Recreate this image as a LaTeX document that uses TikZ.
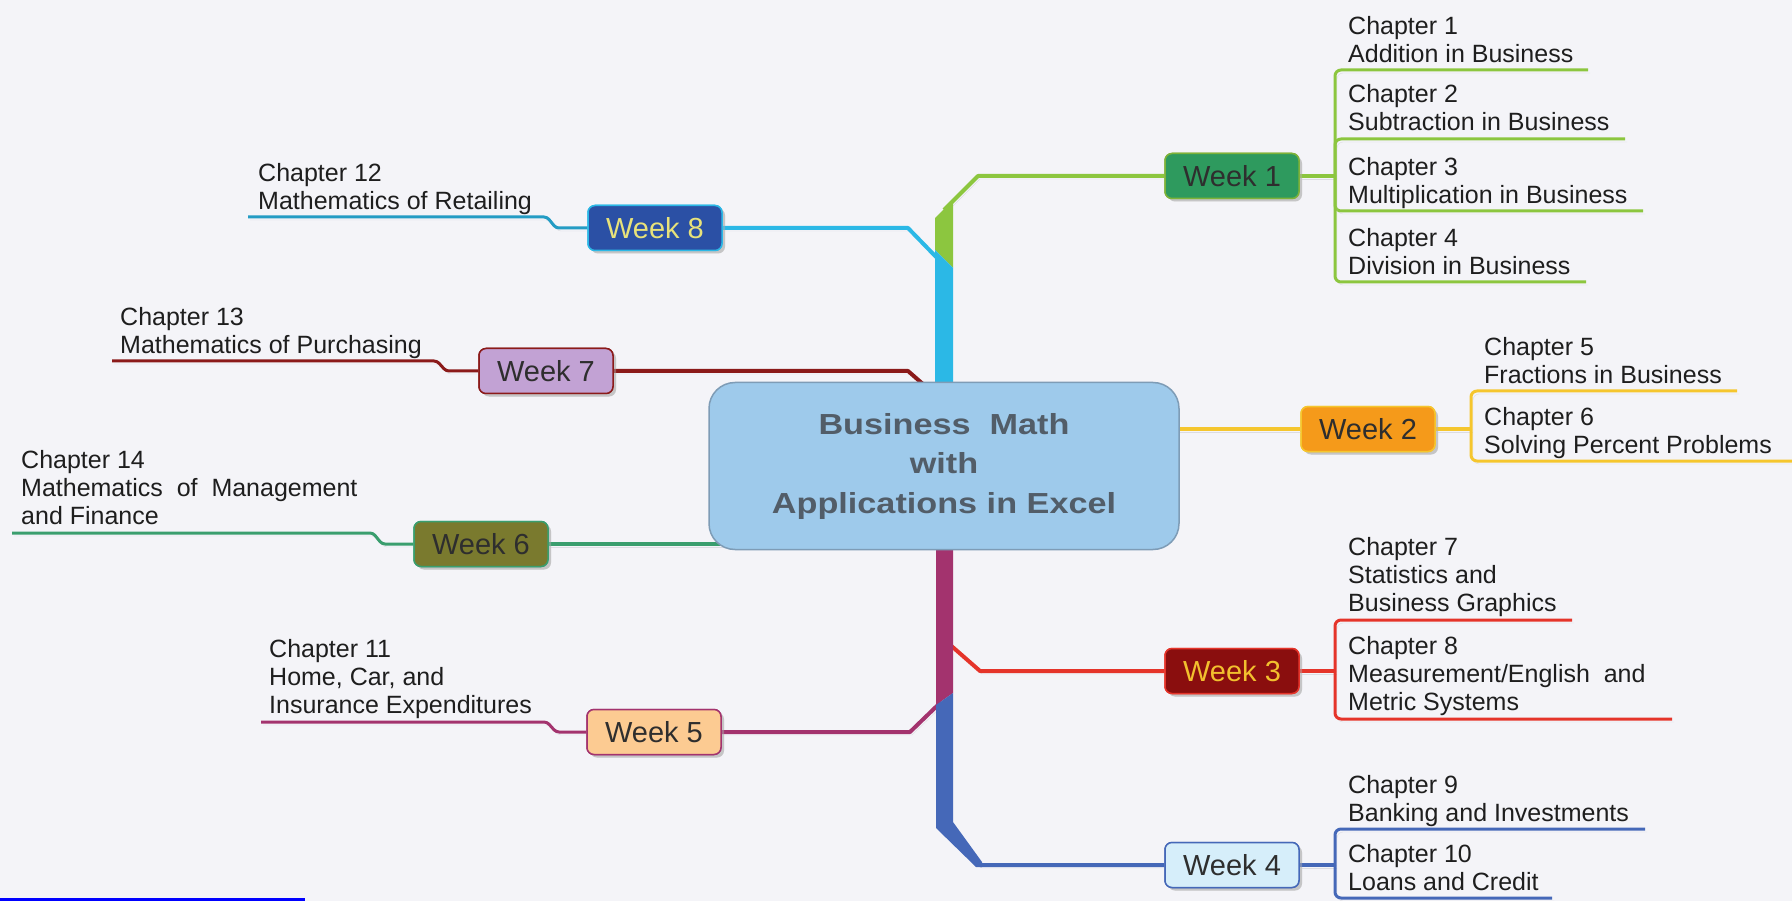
\documentclass[tikz,border=0pt]{standalone}
\usepackage{fontspec}
\setmainfont{Liberation Sans}
\usetikzlibrary{shadows}
\definecolor{bg}{HTML}{F4F4F8}
\definecolor{ctext}{HTML}{1E1E1E}
\definecolor{wtext}{HTML}{2E2E2E}
\definecolor{cgreen}{HTML}{8CC63F}
\definecolor{wonefill}{HTML}{2E9A5E}
\definecolor{ccyan}{HTML}{2BB8E6}
\definecolor{weightfill}{HTML}{2B50A5}
\definecolor{weighttext}{HTML}{E8E27A}
\definecolor{cdred}{HTML}{8B1A1A}
\definecolor{wsevenfill}{HTML}{C2A2D4}
\definecolor{cteal}{HTML}{3A9E6E}
\definecolor{wsixfill}{HTML}{7A7A2E}
\definecolor{cmag}{HTML}{A3336E}
\definecolor{wfivefill}{HTML}{FCCB92}
\definecolor{cyel}{HTML}{F5C62E}
\definecolor{wtwofill}{HTML}{F59A1A}
\definecolor{cred}{HTML}{E5342A}
\definecolor{wthreefill}{HTML}{8A0E0E}
\definecolor{wthreetext}{HTML}{F2C02E}
\definecolor{cblue}{HTML}{4568B8}
\definecolor{wfourfill}{HTML}{D6EEFA}
\definecolor{cfill}{HTML}{9ECAEB}
\definecolor{cborder}{HTML}{7E9CB6}
\definecolor{ctitle}{HTML}{525D68}
\definecolor{lshadow}{HTML}{DCDCE2}
\begin{document}
\begin{tikzpicture}[x=1pt,y=-1pt,
  week/.style={draw, line width=1.5pt, rounded corners=7pt, minimum width=134pt,
    minimum height=45pt, inner sep=0pt, font=\fontsize{29}{34}\selectfont, text=wtext,
    drop shadow={shadow xshift=3pt, shadow yshift=-3pt, fill=black!30, opacity=0.45}},
  chap/.style={anchor=north west, inner sep=0pt, align=left,
    font=\fontsize{25}{28}\selectfont, text=ctext},
  lshad/.style={preaction={draw=lshadow, transform canvas={shift={(2pt,-3pt)}}}},
  conn/.style={line width=4pt, line join=round, lshad},
  uline/.style={line width=3pt, rounded corners=6pt, lshad},
  lline/.style={line width=3pt, rounded corners=3pt, lshad},
]
\useasboundingbox (0,0) rectangle (1792,901);
\fill[bg] (0,0) rectangle (1792,901);

% ---------- week nodes (placed first so anchors exist; redrawn later on top)
\node[week, fill=wonefill, draw=cgreen!90!black] (w1) at (1232,176) {Week 1};
\node[week, fill=wtwofill, draw=cyel] (w2) at (1368,429) {Week 2};
\node[week, fill=wthreefill, draw=cred, text=wthreetext] (w3) at (1232,671) {Week 3};
\node[week, fill=wfourfill, draw=cblue] (w4) at (1232,865) {Week 4};
\node[week, fill=wfivefill, draw=cmag] (w5) at (654,732) {Week 5};
\node[week, fill=wsixfill, draw=cteal] (w6) at (481,544) {Week 6};
\node[week, fill=wsevenfill, draw=cdred] (w7) at (546,371) {Week 7};
\node[week, fill=weightfill, draw=ccyan, text=weighttext] (w8) at (655,228) {Week 8};

% ---------- chapter texts
\node[chap] (c1) at (1348,16) {Chapter 1\\Addition in Business};
\node[chap] (c2) at (1348,84) {Chapter 2\\Subtraction in Business};
\node[chap] (c3) at (1348,157) {Chapter 3\\Multiplication in Business};
\node[chap] (c4) at (1348,228) {Chapter 4\\Division in Business};
\node[chap] (c5) at (1484,337) {Chapter 5\\Fractions in Business};
\node[chap] (c6) at (1484,407) {Chapter 6\\Solving Percent Problems};
\node[chap] (c7) at (1348,537) {Chapter 7\\Statistics and\\Business Graphics};
\node[chap] (c8) at (1348,636) {Chapter 8\\Measurement/English\ \ and\\Metric Systems};
\node[chap] (c9) at (1348,775) {Chapter 9\\Banking and Investments};
\node[chap] (c10) at (1348,844) {Chapter 10\\Loans and Credit};
\node[chap] (c12) at (258,163) {Chapter 12\\Mathematics of Retailing};
\node[chap] (c13) at (120,307) {Chapter 13\\Mathematics of Purchasing};
\node[chap] (c14) at (21,450) {Chapter 14\\Mathematics\ \ of\ \ Management\\and Finance};
\node[chap] (c11) at (269,639) {Chapter 11\\Home, Car, and\\Insurance Expenditures};

% ---------- underline end points
\coordinate (u1) at (1588,70);
\coordinate (u2) at (1625,139);
\coordinate (u3) at (1643,211);
\coordinate (u4) at (1586,282);
\coordinate (u5) at (1737,391);
\coordinate (u6) at (1792,461);
\coordinate (u7) at (1572,620);
\coordinate (u8) at (1672,719);
\coordinate (u9) at (1645,829);
\coordinate (u10) at (1552,898);
\coordinate (u12) at (248,217);
\coordinate (u13) at (112,361);
\coordinate (u14) at (12,533);
\coordinate (u11) at (261,722);
\coordinate (b1) at (1335,176);
\coordinate (b2) at (1471,429);
\coordinate (b3) at (1335,671);
\coordinate (b4) at (1335,865);

% ---------- right chapter brackets
\draw[conn, cgreen] (w1.east) -- (b1);
\draw[uline, cgreen] (b1) -- (1335,70) -- (u1);
\draw[uline, cgreen] (b1) -- (1335,139) -- (u2);
\draw[uline, cgreen] (b1) -- (1335,211) -- (u3);
\draw[uline, cgreen] (b1) -- (1335,282) -- (u4);
\draw[conn, cyel] (w2.east) -- (b2);
\draw[uline, cyel] (b2) -- (1471,391) -- (u5);
\draw[uline, cyel] (b2) -- (1471,461) -- (u6);
\draw[conn, cred] (w3.east) -- (b3);
\draw[uline, cred] (b3) -- (1335,620) -- (u7);
\draw[uline, cred] (b3) -- (1335,719) -- (u8);
\draw[conn, cblue] (w4.east) -- (b4);
\draw[uline, cblue] (b4) -- (1335,829) -- (u9);
\draw[uline, cblue] (b4) -- (1335,898) -- (u10);

% ---------- left chapter lines
\draw[lline, ccyan!85!black] (u12) -- (547,217) -- (556,228) -- (w8.west);
\draw[lline, cdred] (u13) -- (437,361) -- (446,371) -- (w7.west);
\draw[lline, cteal] (u14) -- (373,533) -- (382,544) -- (w6.west);
\draw[lline, cmag] (u11) -- (547,722) -- (556,732) -- (w5.west);

% ---------- main connectors
\coordinate (t1) at (944,210);
\coordinate (t8) at (940,261);
\coordinate (t7) at (932,392);
\coordinate (t6) at (760,544);
\coordinate (t2) at (1170,429);
\coordinate (t3) at (948,643);
\coordinate (t5) at (941,702);
\coordinate (t4) at (975,862);
\draw[conn, cgreen] (t1) -- (978,176) -- (w1.west);
\draw[conn, ccyan] (w8.east) -- (908,228) -- (t8);
\draw[conn, cdred] (w7.east) -- (908,371) -- (t7);
\draw[conn, cteal] (w6.east) -- (t6);
\draw[conn, cyel] (t2) -- (w2.west);
\draw[conn, cred] (t3) -- (980,671) -- (w3.west);
\draw[conn, cmag] (w5.east) -- (910,732) -- (t5);
\draw[conn, cblue] (t4) -- (980,865) -- (w4.west);

% ---------- trunk
\fill[cgreen] (935,218) -- (953,200) -- (953,268) -- (935,250) -- cycle;
\fill[ccyan] (935,250) -- (953,268) -- (953,392) -- (935,392) -- cycle;
\fill[cmag] (936,540) -- (953,540) -- (953,693) -- (936,705) -- cycle;
\fill[cblue] (936,705) -- (953,693) -- (953,822) -- (982,862) -- (982,867)
  -- (976,867) -- (936,828) -- cycle;

% ---------- central topic
\node[draw=cborder, line width=1.5pt, fill=cfill, rounded corners=26pt,
  minimum width=470pt, minimum height=167pt, inner sep=0pt, text=ctitle,
  font=\bfseries\fontsize{29}{39.5}\selectfont] (center) at (944,466)
  {\scalebox{1.18}[1]{\begin{tabular}{@{}c@{}}Business\ \ Math\\with\\Applications in Excel\end{tabular}}};

% ---------- redraw week nodes on top
\node[week, fill=wonefill, draw=cgreen!90!black] at (w1) {Week 1};
\node[week, fill=wtwofill, draw=cyel] at (w2) {Week 2};
\node[week, fill=wthreefill, draw=cred, text=wthreetext] at (w3) {Week 3};
\node[week, fill=wfourfill, draw=cblue] at (w4) {Week 4};
\node[week, fill=wfivefill, draw=cmag] at (w5) {Week 5};
\node[week, fill=wsixfill, draw=cteal] at (w6) {Week 6};
\node[week, fill=wsevenfill, draw=cdred] at (w7) {Week 7};
\node[week, fill=weightfill, draw=ccyan, text=weighttext] at (w8) {Week 8};

% ---------- link underline at bottom left
\fill[blue] (0,898) rectangle (305,901);
\end{tikzpicture}
\end{document}
